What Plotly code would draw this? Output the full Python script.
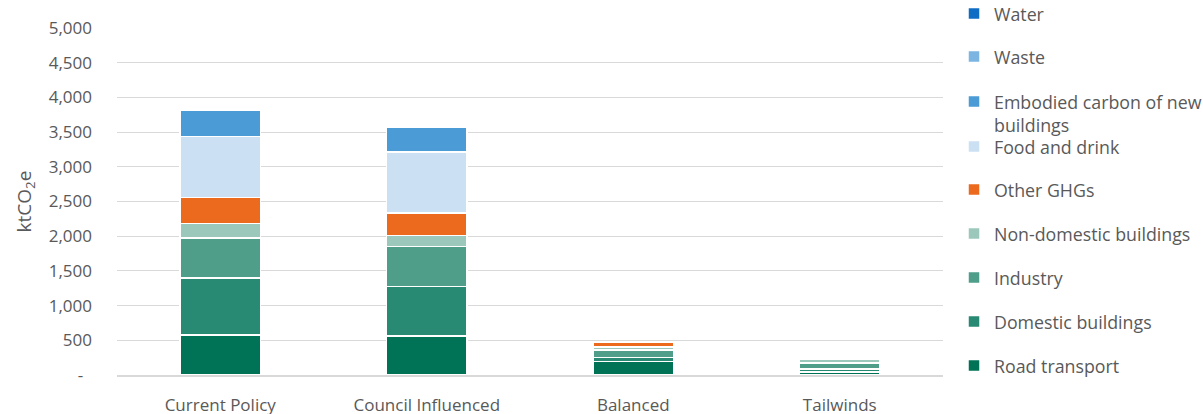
import plotly.graph_objects as go

# ---- data ----
categories = ["Current Policy", "Council Influenced", "Balanced", "Tailwinds"]

road_transport = [573, 559, 191, 46]
domestic_buildings = [825, 715, 61, 40]
industry = [576, 575, 108, 84]
non_domestic_buildings = [211, 163, 47, 53]
other_ghgs = [374, 324, 61, 17]
food_and_drink = [876, 876, 0, 0]
embodied_carbon = [386, 355, 0, 0]
waste = [0, 0, 0, 0]
water = [0, 0, 0, 0]

series_names = [
    "Road transport", "Domestic buildings", "Industry", "Non-domestic buildings",
    "Other GHGs", "Food and drink", "Embodied carbon of new<br>buildings", "Waste", "Water",
]
series_values = [
    road_transport, domestic_buildings, industry, non_domestic_buildings,
    other_ghgs, food_and_drink, embodied_carbon, waste, water,
]

y_tick_values = [0, 500, 1000, 1500, 2000, 2500, 3000, 3500, 4000, 4500, 5000]
y_tick_labels = ["-\u00a0\u00a0", "500", "1,000", "1,500", "2,000", "2,500",
                 "3,000", "3,500", "4,000", "4,500", "5,000"]

# ---- styling ----
colors = ["#007256", "#298A74", "#4E9E8A", "#9CC8BB", "#EB6A1E",
          "#CCE0F3", "#4A9BD6", "#7DB5E2", "#0F6CC4"]
# legend item vertical centres in pixels (top of figure = 0)
legend_px = [366, 322, 278, 234, 190, 147, 113.5, 57, 14]

W, H = 1203, 414
ML, MR, MT, MB = 117, 260, 28, 39
plot_h = H - MT - MB
plot_w = W - ML - MR
FONT = "Open Sans"
GREY = "#595959"

fig = go.Figure()
layout_legends = {}
for i, (name, vals, col) in enumerate(zip(series_names, series_values, colors)):
    key = "legend" if i == 0 else f"legend{i+1}"
    fig.add_trace(go.Bar(
        x=categories, y=vals, name=name, legend=key,
        marker=dict(color=col, line=dict(color="white", width=1.5)),
    ))
    ypx = legend_px[i]
    layout_legends[key] = dict(
        x=(954 - ML) / plot_w,
        y=(H - MB - ypx) / plot_h,
        xanchor="left", yanchor="middle",
        valign="top",
        bgcolor="rgba(0,0,0,0)",
        font=dict(family=FONT, size=17.8, color=GREY),
    )

fig.update_layout(
    width=W, height=H,
    margin=dict(l=ML, r=MR, t=MT, b=MB, autoexpand=False),
    barmode="stack",
    bargap=0.608,
    plot_bgcolor="white",
    paper_bgcolor="white",
    font=dict(family=FONT, size=17, color=GREY),
    showlegend=True,
    **layout_legends,
)

fig.update_yaxes(
    range=[0, 5000],
    tickvals=y_tick_values,
    ticktext=y_tick_labels,
    showgrid=True, gridcolor="#D9D9D9", gridwidth=1,
    zeroline=False,
    showline=False,
    ticklabelstandoff=24,
    tickfont=dict(family=FONT, size=17, color=GREY),
    title=dict(text="ktCO<sub>2</sub>e", font=dict(family=FONT, size=19, color=GREY), standoff=12),
    automargin=False,
)
fig.update_xaxes(
    showline=True, linecolor="#D9D9D9", linewidth=1.5,
    ticklabelstandoff=14,
    tickfont=dict(family=FONT, size=17, color=GREY),
    automargin=False,
)

fig.write_html(
    "out.html",
    config={"displayModeBar": False},
    post_script="document.body.style.margin='0';document.body.style.overflow='hidden';",
)
